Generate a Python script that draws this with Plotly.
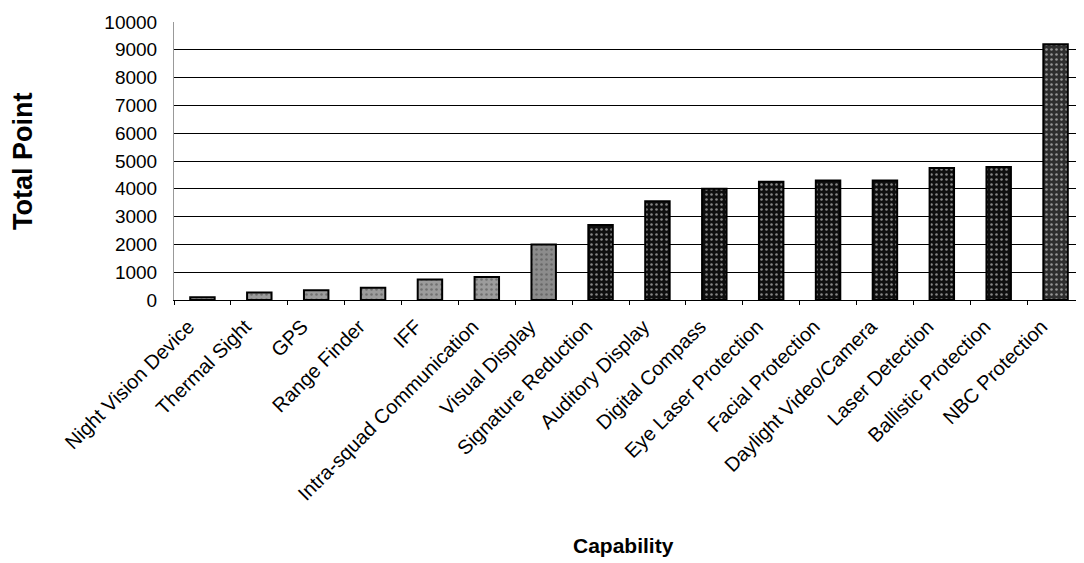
import plotly.graph_objects as go

capabilities = ["Night Vision Device", "Thermal Sight", "GPS", "Range Finder", "IFF",
                "Intra-squad Communication", "Visual Display", "Signature Reduction",
                "Auditory Display", "Digital Compass", "Eye Laser Protection",
                "Facial Protection", "Daylight Video/Camera", "Laser Detection",
                "Ballistic Protection", "NBC Protection"]
total_points = [100, 270, 350, 440, 740, 830, 2000, 2700, 3550, 4000, 4250, 4300,
                4300, 4750, 4780, 9200]
y_ticks = [0, 1000, 2000, 3000, 4000, 5000, 6000, 7000, 8000, 9000, 10000]
y_tick_text = [str(v) for v in y_ticks]

bar_colors = (["#9c9c9c"] * 6 + ["#8c8c8c"] + ["#0f0f0f"] * 8 + ["#2e2e2e"])
pattern_fg = (["#4a4a4a"] * 6 + ["#cfcfcf"] + ["#8a8a8a"] * 8 + ["#b5b5b5"])

FONT = "Liberation Sans, Arial, sans-serif"
OFF = 8  # default page body margin
W, H = 1084, 563
L, R, T, B = 174 - OFF, OFF, 22 - OFF, H - (300 - OFF)
PW, PH = W - L - R, H - T - B


def px_x(x):
    return (x - OFF - L) / PW


def px_y(y):
    return (T + PH - (y - OFF)) / PH


fig = go.Figure()
fig.add_trace(go.Bar(
    x=capabilities, y=total_points, width=0.43,
    marker=dict(color=bar_colors,
                line=dict(color="#000000", width=2),
                pattern=dict(shape=".", fillmode="overlay", fgcolor=pattern_fg,
                             size=5, solidity=0.2)),
    showlegend=False,
))

fig.update_layout(
    width=W, height=H,
    margin=dict(l=L, r=R, t=T, b=B),
    paper_bgcolor="white", plot_bgcolor="white",
    font=dict(family=FONT, color="#000000"),
    xaxis=dict(
        type="category", tickangle=-45, automargin=False,
        tickfont=dict(size=20, family=FONT),
        ticks="outside", tickson="boundaries", ticklen=4, tickcolor="#000",
        showline=True, linecolor="#000", linewidth=1,
        showgrid=False, ticklabelshift=-14, ticklabelstandoff=6,
    ),
    yaxis=dict(
        range=[0, 10000], tickvals=y_ticks, ticktext=y_tick_text, automargin=False,
        tickfont=dict(size=19, family=FONT),
        showgrid=True, gridcolor="#000000", gridwidth=1,
        zeroline=True, zerolinecolor="#000", zerolinewidth=1,
        showline=True, linecolor="#999", linewidth=1,
        ticks="", ticklabelstandoff=12,
    ),
    annotations=[
        dict(text="<b>Capability</b>", x=px_x(623), y=px_y(545),
             xref="paper", yref="paper", xanchor="center", yanchor="middle",
             showarrow=False, font=dict(size=21, family=FONT)),
        dict(text="<b>Total Point</b>", x=px_x(23), y=px_y(162),
             xref="paper", yref="paper", xanchor="center", yanchor="middle",
             textangle=-90, showarrow=False, font=dict(size=27, family=FONT)),
    ],
)

fig.write_html("out.html")
